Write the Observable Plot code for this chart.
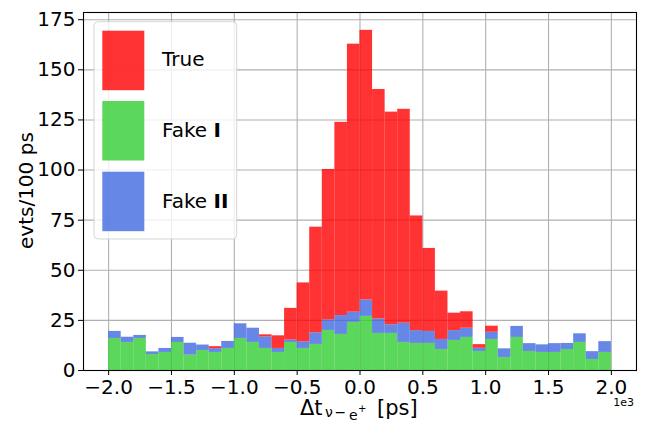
<!DOCTYPE html>
<html><head><meta charset="utf-8">
<script src="https://cdn.jsdelivr.net/npm/d3@7"></script>
<script src="https://cdn.jsdelivr.net/npm/@observablehq/plot@0.6"></script>
<style>body{margin:0;background:#fff;} svg{display:block}</style>
</head><body><div id="chart"></div>
<script>
const binWidth = 100;
const binStart = d3.range(-2000, 2000, binWidth);
const fakeI = [16, 14, 16, 8, 9, 14, 7.7, 10, 9, 11,
  16, 14, 11, 9, 14, 11, 13, 20, 18, 24,
  27, 18.5, 18.5, 14, 13.5, 13.5, 10.5, 15, 16.5, 9.5,
  15.5, 6.5, 16.5, 9.5, 9, 9, 10.5, 14, 5.5, 9];
const fakeII = [3.5, 2.6, 1.5, 1.3, 2, 2.5, 5.9, 2.7, 1.9, 3.5,
  7.3, 7.1, 5.8, 2, 1.2, 3.3, 5.8, 5.2, 9.4, 5.1,
  8.2, 7.2, 4.3, 9.6, 6.4, 6, 5, 4.9, 4.6, 1.6,
  3.6, 4.3, 5.5, 3.9, 3.8, 4.4, 3, 4.3, 3.9, 5.4];
const trueCounts = [0, 0, 0, 0, 0, 0, 0, 0, 1, 0,
  0, 0, 1, 6.3, 15.8, 29.4, 52.7, 75.1, 96.4, 133.7,
  134.5, 114.5, 106.1, 106.7, 57.2, 41.4, 24.1, 8.7, 8.2, 1.8,
  3, 0, 0, 0, 0, 0, 0, 0, 0, 0];
const seriesNames = ["Fake I", "Fake II", "True"];
const seriesColors = ["limegreen", "royalblue", "red"];
const legendOrder = ["True", "Fake I", "Fake II"];
const xTicks = [-2000, -1500, -1000, -500, 0, 500, 1000, 1500, 2000];
const yTicks = [0, 25, 50, 75, 100, 125, 150, 175];

const rows = [];
[fakeI, fakeII, trueCounts].forEach((arr, k) =>
  arr.forEach((v, i) => rows.push({x1: binStart[i], x2: binStart[i] + binWidth, y: v, series: seriesNames[k]})));

const font = "DejaVu Sans, sans-serif";
const plot = Plot.plot({
  width: 645, height: 423,
  marginLeft: 83, marginRight: 9, marginTop: 12, marginBottom: 53,
  style: {fontFamily: font, fontSize: "20px", background: "white", color: "black"},
  x: {domain: [-2200, 2200]},
  y: {domain: [0, 178.6]},
  color: {domain: seriesNames, range: seriesColors},
  marks: [
    Plot.gridX(xTicks, {stroke: "#b0b0b0", strokeOpacity: 1, strokeWidth: 1.1}),
    Plot.gridY(yTicks, {stroke: "#b0b0b0", strokeOpacity: 1, strokeWidth: 1.1}),
    Plot.rectY(rows, {x1: "x1", x2: "x2", y: "y", fill: "series", fillOpacity: 0.8, inset: 0}),
    Plot.axisX(xTicks, {tickSize: 5, tickPadding: 4, fontSize: 20, label: null,
      tickFormat: d => (d / 1000).toFixed(1).replace("-", "\u2212")}),
    Plot.axisY(yTicks, {tickSize: 5, tickPadding: 3, fontSize: 20, label: null}),
    Plot.frame({stroke: "black", strokeWidth: 1.1})
  ]
});
document.getElementById("chart").appendChild(plot);

const svg = d3.select(plot);
// legend
const lg = svg.append("g").attr("font-family", font).attr("font-size", 20).attr("text-anchor", "start");
lg.append("rect").attr("x", 94).attr("y", 21.7).attr("width", 142.7).attr("height", 217.3)
  .attr("rx", 4).attr("fill", "white").attr("fill-opacity", 0.8)
  .attr("stroke", "#cccccc").attr("stroke-opacity", 0.8);
const patchY = [30.7, 101, 171.7];
const textY = [66, 137, 207.5];
legendOrder.forEach((name, i) => {
  const c = seriesColors[seriesNames.indexOf(name)];
  lg.append("rect").attr("x", 102.3).attr("y", patchY[i]).attr("width", 42).attr("height", 59.5)
    .attr("fill", c).attr("fill-opacity", 0.8);
  const t = lg.append("text").attr("x", 162).attr("y", textY[i]).attr("fill", "black").attr("text-anchor", "start");
  if (name === "True") t.text("True");
  else {
    t.append("tspan").text("Fake ");
    t.append("tspan").attr("font-weight", "bold").text(name.slice(5));
  }
});
// y label
svg.append("text").attr("transform", "translate(26,190.6) rotate(-90)")
  .attr("text-anchor", "middle").attr("dy", "0.36em").attr("font-family", font).attr("font-size", 20)
  .attr("fill", "black").text("evts/100 ps");
// x label (pieces of one math label)
const xl = svg.append("text").attr("text-anchor", "start")
  .attr("font-family", font).attr("fill", "black");
xl.append("tspan").attr("x", 300).attr("y", 415).attr("font-size", 21).text("\u0394t");
xl.append("tspan").attr("x", 325).attr("y", 417).attr("font-size", 14).text("\u03bd");
xl.append("tspan").attr("x", 334.5).attr("y", 417).attr("font-size", 14).text("\u2212");
xl.append("tspan").attr("x", 349).attr("y", 419.5).attr("font-size", 14).text("e");
xl.append("tspan").attr("x", 358).attr("y", 411.5).attr("font-size", 10).text("+");
xl.append("tspan").attr("x", 377).attr("y", 415).attr("font-size", 21).text("[ps]");
// offset text
svg.append("text").attr("x", 634).attr("y", 406).attr("text-anchor", "end")
  .attr("font-family", font).attr("font-size", 11).attr("fill", "black").text("1e3");
</script></body></html>
